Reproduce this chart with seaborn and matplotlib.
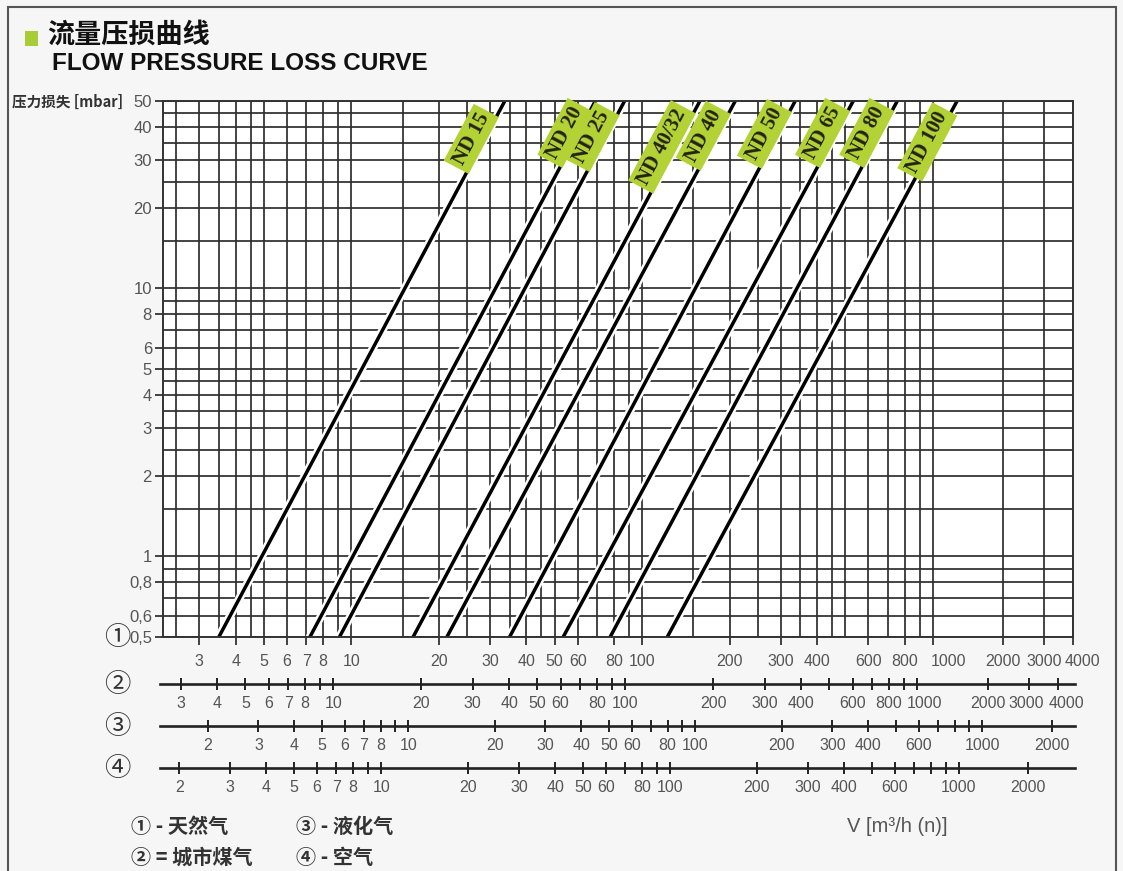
import numpy as np
import pandas as pd
import matplotlib
matplotlib.use("Agg")
import matplotlib.pyplot as plt
import matplotlib.patheffects as pe
from matplotlib.patches import Rectangle
from matplotlib.ticker import NullFormatter
import seaborn as sns

# ---- data -----------------------------------------------------------------
sizes = ["ND 15", "ND 20", "ND 25", "ND 40/32", "ND 40", "ND 50", "ND 65", "ND 80", "ND 100"]
# natural-gas flow (m3/h) at the two ends of each curve
pressure_ends = [0.5, 50]
flow_at_low = [3.5, 7.2, 9.1, 16.3, 21.3, 35.0, 53.5, 77.6, 122.0]
flow_at_high = [33.7, 69.0, 87.0, 158.0, 209.0, 336.0, 532.0, 754.0, 1270.0]

# flow conversion factors of the other gases relative to natural gas
gas_names = ["天然气", "城市煤气", "液化气", "空气"]
gas_factor = [1.0, 1.16, 0.62, 0.78]

y_ticks = [0.5, 0.6, 0.8, 1, 2, 3, 4, 5, 6, 8, 10, 20, 30, 40, 50]
y_grid = [0.5, 0.6, 0.7, 0.8, 0.9, 1, 1.5, 2, 2.5, 3, 3.5, 4, 4.5, 5, 6, 7, 8, 9,
          10, 15, 20, 25, 30, 35, 40, 45, 50]
x_grid = [2.5, 3, 3.5, 4, 4.5, 5, 6, 7, 8, 9, 10, 15, 20, 25, 30, 35, 40, 45, 50,
          60, 70, 80, 90, 100, 150, 200, 250, 300, 350, 400, 450, 500, 600, 700,
          800, 900, 1000, 2000, 3000]

labels_1 = [3, 4, 5, 6, 7, 8, 10, 20, 30, 40, 50, 60, 80, 100, 200, 300, 400, 600,
            800, 1000, 2000, 3000, 4000]
ticks_2 = [3, 4, 5, 6, 7, 8, 9, 10, 20, 30, 40, 50, 60, 70, 80, 90, 100, 200, 300,
           400, 500, 600, 700, 800, 900, 1000, 2000, 3000, 4000]
labels_2 = labels_1
ticks_34 = [2, 3, 4, 5, 6, 7, 8, 9, 10, 20, 30, 40, 50, 60, 70, 80, 90, 100, 200,
            300, 400, 500, 600, 700, 800, 900, 1000, 2000]
labels_34 = [2, 3, 4, 5, 6, 7, 8, 10, 20, 30, 40, 50, 60, 80, 100, 200, 300, 400,
             600, 1000, 2000]

# ---- figure ----------------------------------------------------------------
sns.set_theme(style="white")
plt.rcParams["font.family"] = ["Liberation Sans", "Noto Sans CJK SC", "DejaVu Sans"]
CJK = ["Noto Sans CJK SC", "DejaVu Sans"]

W, H = 1123, 871
fig = plt.figure(figsize=(W / 100, H / 100), dpi=100)
fig.patch.set_facecolor("#f6f6f6")


def fx(px):
    return px / W


def fy(py):
    return 1 - py / H


# log scale whose top decade (1000-4000) is drawn narrower, as on the printed nomogram
def fwd(v):
    lv = np.log10(np.clip(np.asarray(v, dtype=float), 1e-9, None))
    return np.where(lv <= 3, lv, 3 + 0.8 * (lv - 3))


def inv(u):
    u = np.asarray(u, dtype=float)
    return 10 ** np.where(u <= 3, u, 3 + (u - 3) / 0.8)


TICK_FS = 11.5
LABEL_COLOR = "#555"


def scale_labels(a, values, drop_pt, nudge):
    """Write the flow values under a scale; crowded ones are nudged sideways."""
    tr = a.get_xaxis_transform()
    for v in values:
        a.annotate(str(v), xy=(v, 0), xycoords=tr,
                   xytext=(nudge.get(v, 0), -drop_pt), textcoords="offset points",
                   ha="center", va="top", fontsize=TICK_FS, color=LABEL_COLOR,
                   annotation_clip=False)


x_lim = (2.25, 4000)
left, right, top, bottom = 163, 1073, 101, 637
ax = fig.add_axes([fx(left), fy(bottom), fx(right - left), (bottom - top) / H])
ax.set_facecolor("white")
ax.set_xscale("function", functions=(fwd, inv))
ax.set_yscale("log")
ax.set_xlim(*x_lim)
ax.set_ylim(0.5, 50)

# grid
ax.set_xticks(x_grid, minor=True)
ax.set_yticks(y_grid, minor=True)
ax.xaxis.set_minor_formatter(NullFormatter())
ax.yaxis.set_minor_formatter(NullFormatter())
ax.grid(which="both", color="#2e2e2e", lw=1.25)
ax.set_axisbelow(True)

ax.set_xticks(labels_1)
ax.set_yticks(y_ticks, labels=[f"{v:g}".replace(".", ",") for v in y_ticks])
ax.tick_params(axis="both", which="minor", length=0, bottom=False, left=False)
ax.tick_params(axis="x", which="major", bottom=True, labelbottom=False,
               direction="out", length=6, width=1.3, color="#333")
ax.tick_params(axis="y", which="major", left=True, direction="out", length=6,
               width=1.3, color="#333", pad=2, labelsize=TICK_FS + 0.5,
               labelcolor=LABEL_COLOR)
for s in ax.spines.values():
    s.set_color("#333")
    s.set_linewidth(1.4)
scale_labels(ax, labels_1, 12, {1000: 11, 4000: 7})

# pressure-loss curves
df = pd.DataFrame({
    "size": np.repeat(sizes, 2),
    "pressure": pressure_ends * len(sizes),
    "flow": np.ravel(np.column_stack([flow_at_low, flow_at_high])),
})
sns.lineplot(data=df, x="flow", y="pressure", units="size", estimator=None,
             sort=False, color="black", lw=2.5, legend=False, ax=ax)
for ln in ax.lines:
    ln.set_path_effects([pe.Stroke(linewidth=6, foreground="white"), pe.Normal()])
ax.set_xlabel("")
ax.set_ylabel("")

# curve labels, set just left of each curve
label_pressure = [36.1, 38.0, 36.7, 33.7, 37.1, 37.7, 38.0, 38.0, 35.2]
for name, q0, q1, p in zip(sizes, flow_at_low, flow_at_high, label_pressure):
    k = np.log(q1 / q0) / np.log(pressure_ends[1] / pressure_ends[0])
    q = q0 * (p / pressure_ends[0]) ** k * 0.9
    ax.text(q, p, name, rotation=62, rotation_mode="anchor", ha="center",
            va="center", family="Liberation Serif", fontweight="bold",
            fontsize=15, color="#232316", zorder=5,
            bbox=dict(boxstyle="square,pad=0.2", fc="#b3d236", ec="none"))

# secondary gas scales
sec_rows = [(684, gas_factor[1], ticks_2, labels_2, {1000: 5, 3000: -1.5, 4000: 6}),
            (726, gas_factor[2], ticks_34, labels_34, {}),
            (768, gas_factor[3], ticks_34, labels_34, {})]
for yc, fac, ticks, labs, nudge in sec_rows:
    sa = fig.add_axes([fx(left - 3), fy(yc), fx(right - left + 5), 0.0001])
    sa.set_facecolor("none")
    sa.set_xscale("function", functions=(fwd, inv))
    lo, hi = x_lim[0] * fac, x_lim[1] * fac
    sa.set_xlim(inv(fwd(lo) - 3 / 290.7), inv(fwd(hi) + 2 / 290.7))
    sa.set_xticks(ticks)
    sa.xaxis.set_minor_formatter(NullFormatter())
    sa.set_yticks([])
    sa.tick_params(axis="x", which="major", bottom=True, labelbottom=False,
                   direction="inout", length=9, width=1.4, color="#222")
    sa.tick_params(axis="x", which="minor", bottom=False)
    for name in ("left", "right", "top"):
        sa.spines[name].set_visible(False)
    sa.spines["bottom"].set_linewidth(1.9)
    sa.spines["bottom"].set_color("#222")
    scale_labels(sa, labs, 8.5, nudge)

# circled scale numbers
for n, yc in zip("①②③④", (637, 684, 726, 768)):
    fig.text(fx(117), fy(yc), n, ha="center", va="center", fontsize=19,
             family=CJK, color="#333")

# title block
fig.patches.append(Rectangle((fx(25), fy(46)), fx(13), 15 / H, transform=fig.transFigure,
                             fc="#a6cc38", ec="none"))
fig.text(fx(47), fy(35), "流量压损曲线", ha="left", va="center", fontsize=19.5,
         family=CJK, fontweight="bold", color="#111")
fig.text(fx(52), fy(63), "FLOW PRESSURE LOSS CURVE", ha="left", va="center",
         fontsize=17.5, fontweight="bold", color="#111")
fig.text(fx(12), fy(102), "压力损失 [mbar]", ha="left", va="center", fontsize=10.5,
         family=CJK, fontweight="bold", color="#333")

# legend of gases and unit
LEG = dict(ha="left", va="center", fontsize=14.5, family=CJK, color="#333",
           fontweight="bold")
fig.text(fx(131), fy(826), "① - " + gas_names[0], **LEG)
fig.text(fx(296), fy(826), "③ - " + gas_names[2], **LEG)
fig.text(fx(131), fy(857), "② = " + gas_names[1], **LEG)
fig.text(fx(296), fy(857), "④ - " + gas_names[3], **LEG)
fig.text(fx(847), fy(826), "V [m³/h (n)]", ha="left", va="center", fontsize=14.5,
         color=LABEL_COLOR)

# page frame
fig.patches.append(Rectangle((fx(8), -0.01), fx(1108), fy(7) + 0.01,
                             transform=fig.transFigure, fill=False, ec="#555", lw=1.5))

fig.savefig("out.png", dpi=100, facecolor=fig.get_facecolor())
